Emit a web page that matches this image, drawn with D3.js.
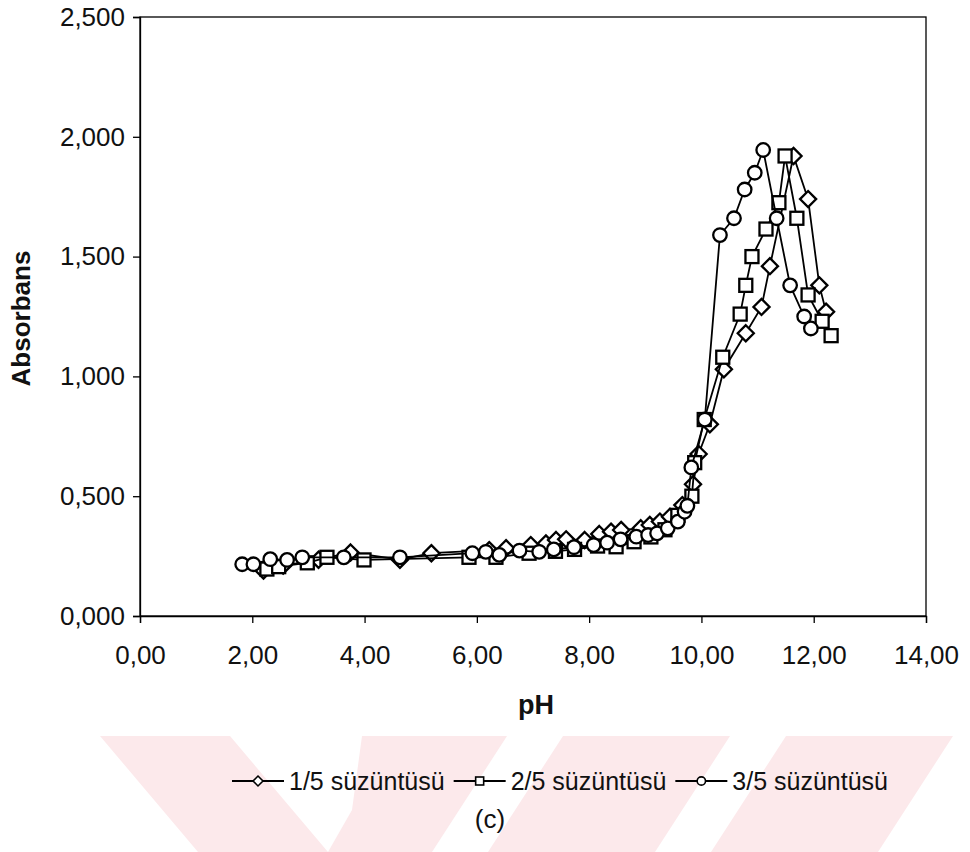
<!DOCTYPE html>
<html>
<head>
<meta charset="utf-8">
<script src="https://cdn.jsdelivr.net/npm/d3@7"></script>
<style>
  html, body { margin: 0; padding: 0; background: #fff; }
  svg { display: block; }
  text { font-family: "Liberation Sans", Arial, sans-serif; fill: #111; }
</style>
</head>
<body>
<svg id="chart" width="970" height="852"></svg>
<script>
// pH titration readings for three filtrate dilutions
const series = ["1/5 süzüntüsü", "2/5 süzüntüsü", "3/5 süzüntüsü"];
const symbols = ["diamond", "square", "circle"];

const ph_1_5 = [2.20, 2.55, 3.18, 3.75, 4.63, 5.19, 6.22, 6.52, 6.96, 7.23, 7.41, 7.59, 7.92, 8.18, 8.39, 8.57, 8.92, 9.08, 9.26, 9.44, 9.66, 9.85, 9.95, 10.15, 10.40, 10.79, 11.07, 11.22, 11.64, 11.90, 12.10, 12.22];
const abs_1_5 = [0.190, 0.210, 0.235, 0.265, 0.235, 0.262, 0.275, 0.283, 0.296, 0.303, 0.317, 0.320, 0.317, 0.342, 0.352, 0.359, 0.366, 0.380, 0.394, 0.414, 0.463, 0.550, 0.676, 0.800, 1.030, 1.180, 1.290, 1.460, 1.920, 1.740, 1.380, 1.270];

const ph_2_5 = [2.26, 2.47, 2.98, 3.33, 3.99, 5.86, 6.34, 6.93, 7.40, 7.74, 8.15, 8.48, 8.80, 9.10, 9.35, 9.58, 9.83, 9.88, 10.05, 10.38, 10.69, 10.79, 10.90, 11.15, 11.38, 11.49, 11.70, 11.90, 12.15, 12.31];
const abs_2_5 = [0.196, 0.206, 0.222, 0.245, 0.234, 0.245, 0.245, 0.262, 0.270, 0.278, 0.292, 0.289, 0.310, 0.330, 0.360, 0.420, 0.500, 0.640, 0.820, 1.080, 1.260, 1.380, 1.500, 1.615, 1.725, 1.920, 1.660, 1.340, 1.230, 1.170];

const ph_3_5 = [1.82, 2.02, 2.32, 2.62, 2.89, 3.63, 4.63, 5.92, 6.16, 6.40, 6.76, 7.11, 7.37, 7.73, 8.08, 8.32, 8.56, 8.84, 9.05, 9.21, 9.40, 9.58, 9.70, 9.75, 9.82, 10.06, 10.33, 10.58, 10.77, 10.95, 11.10, 11.34, 11.58, 11.83, 11.95];
const abs_3_5 = [0.216, 0.216, 0.237, 0.234, 0.245, 0.245, 0.245, 0.262, 0.268, 0.255, 0.273, 0.268, 0.278, 0.287, 0.296, 0.306, 0.320, 0.331, 0.338, 0.345, 0.366, 0.394, 0.435, 0.460, 0.620, 0.820, 1.590, 1.660, 1.780, 1.850, 1.945, 1.660, 1.380, 1.250, 1.200];

const xTicks = [0, 2, 4, 6, 8, 10, 12, 14];
const yTicks = [0, 0.5, 1.0, 1.5, 2.0, 2.5];

const xTitle = "pH";
const yTitle = "Absorbans";
const caption = "(c)";

const data = [
  { name: series[0], symbol: symbols[0], pts: ph_1_5.map((x, i) => ({ x, y: abs_1_5[i] })) },
  { name: series[1], symbol: symbols[1], pts: ph_2_5.map((x, i) => ({ x, y: abs_2_5[i] })) },
  { name: series[2], symbol: symbols[2], pts: ph_3_5.map((x, i) => ({ x, y: abs_3_5[i] })) }
];

const svg = d3.select("#chart");
const plot = { left: 140, top: 17, right: 926, bottom: 616 };
const FONT = "'Liberation Sans', Arial, sans-serif";

// faint diagonal band pattern along the bottom of the page
const bandColor = "#fce9eb";
const bT = 736, bB = 852;
const bands = [
  [[100, bT], [230, bT], [328, bB], [198, bB]],
  [[362, bT], [507, bT], [432, bB], [328, bB], [352, 810]],
  [[563, bT], [730, bT], [655, bB], [488, bB]],
  [[786, bT], [953, bT], [878, bB], [711, bB]]
];
svg.append("g").selectAll("polygon").data(bands).join("polygon")
  .attr("points", d => d.map(p => p.join(",")).join(" "))
  .attr("fill", bandColor);

const x = d3.scaleLinear().domain([0, 14]).range([plot.left, plot.right]);
const y = d3.scaleLinear().domain([0, 2.5]).range([plot.bottom, plot.top]);

// plot frame
svg.append("rect")
  .attr("x", plot.left).attr("y", plot.top)
  .attr("width", plot.right - plot.left).attr("height", plot.bottom - plot.top)
  .attr("fill", "none").attr("stroke", "#000").attr("stroke-width", 1.3);

const fmtX = v => d3.format(".2f")(v).replace(".", ",");
const fmtY = v => d3.format(".3f")(v).replace(".", ",");

const xAxis = svg.append("g")
  .attr("transform", `translate(0,${plot.bottom})`)
  .call(d3.axisBottom(x).tickValues(xTicks).tickFormat(fmtX).tickSize(7).tickPadding(23));
const yAxis = svg.append("g")
  .attr("transform", `translate(${plot.left},0)`)
  .call(d3.axisLeft(y).tickValues(yTicks).tickFormat(fmtY).tickSize(7).tickPadding(8));

[xAxis, yAxis].forEach(a => {
  a.select(".domain").attr("stroke", "#000").attr("stroke-width", 1.3);
  a.selectAll(".tick line").attr("stroke", "#000").attr("stroke-width", 1.3);
  a.selectAll(".tick text")
    .attr("font-family", FONT)
    .attr("font-size", 26).attr("fill", "#111");
});

// axis titles
svg.append("text")
  .attr("x", (plot.left + plot.right) / 2 + 3).attr("y", 714)
  .attr("text-anchor", "middle").attr("font-size", 27).attr("font-weight", "bold")
  .text(xTitle);
svg.append("text")
  .attr("transform", `translate(30,${(plot.top + plot.bottom) / 2 + 2}) rotate(-90)`)
  .attr("text-anchor", "middle").attr("font-size", 26).attr("font-weight", "bold")
  .text(yTitle);

// marker shapes
function marker(sel, kind, s) {
  if (kind === "circle") {
    sel.append("circle").attr("r", s * 0.52);
  } else if (kind === "square") {
    sel.append("rect").attr("x", -s / 2).attr("y", -s / 2).attr("width", s).attr("height", s);
  } else {
    const h = s * 0.62;
    sel.append("path").attr("d", `M0,${-h}L${h},0L0,${h}L${-h},0Z`);
  }
}

const line = d3.line().x(d => x(d.x)).y(d => y(d.y));

const seriesG = svg.append("g").selectAll("g").data(data).join("g");
seriesG.append("path")
  .attr("d", d => line(d.pts))
  .attr("fill", "none").attr("stroke", "#000").attr("stroke-width", 1.8);
seriesG.each(function (d) {
  d3.select(this).selectAll("g.mk").data(d.pts).join("g")
    .attr("class", "mk")
    .attr("transform", p => `translate(${x(p.x)},${y(p.y)})`)
    .attr("fill", "#fff").attr("stroke", "#000").attr("stroke-width", 2.3)
    .each(function () { marker(d3.select(this), d.symbol, 13); });
});

// legend row beneath the axis title
const legend = svg.append("g").attr("transform", "translate(0,790)");
const segW = 52, gapT = 5, gapI = 9;
const items = [];
data.forEach(d => {
  const g = legend.append("g");
  const t = g.append("text").attr("font-size", 25).attr("y", 0).text(d.name);
  items.push({ d, g, t, w: t.node().getComputedTextLength() });
});
const total = d3.sum(items, it => segW + gapT + it.w) + gapI * (items.length - 1);
let lx = 560 - total / 2;
items.forEach(it => {
  it.g.insert("line", "text").attr("x1", lx).attr("x2", lx + segW).attr("y1", -9).attr("y2", -9)
    .attr("stroke", "#000").attr("stroke-width", 1.8);
  const m = it.g.insert("g", "text").attr("transform", `translate(${lx + segW / 2},-9)`)
    .attr("fill", "#fff").attr("stroke", "#000").attr("stroke-width", 1.6);
  marker(m, it.d.symbol, 8);
  it.t.attr("x", lx + segW + gapT);
  lx += segW + gapT + it.w + gapI;
});

svg.append("text")
  .attr("x", 490).attr("y", 828)
  .attr("text-anchor", "middle").attr("font-size", 26)
  .text(caption);
</script>
</body>
</html>
